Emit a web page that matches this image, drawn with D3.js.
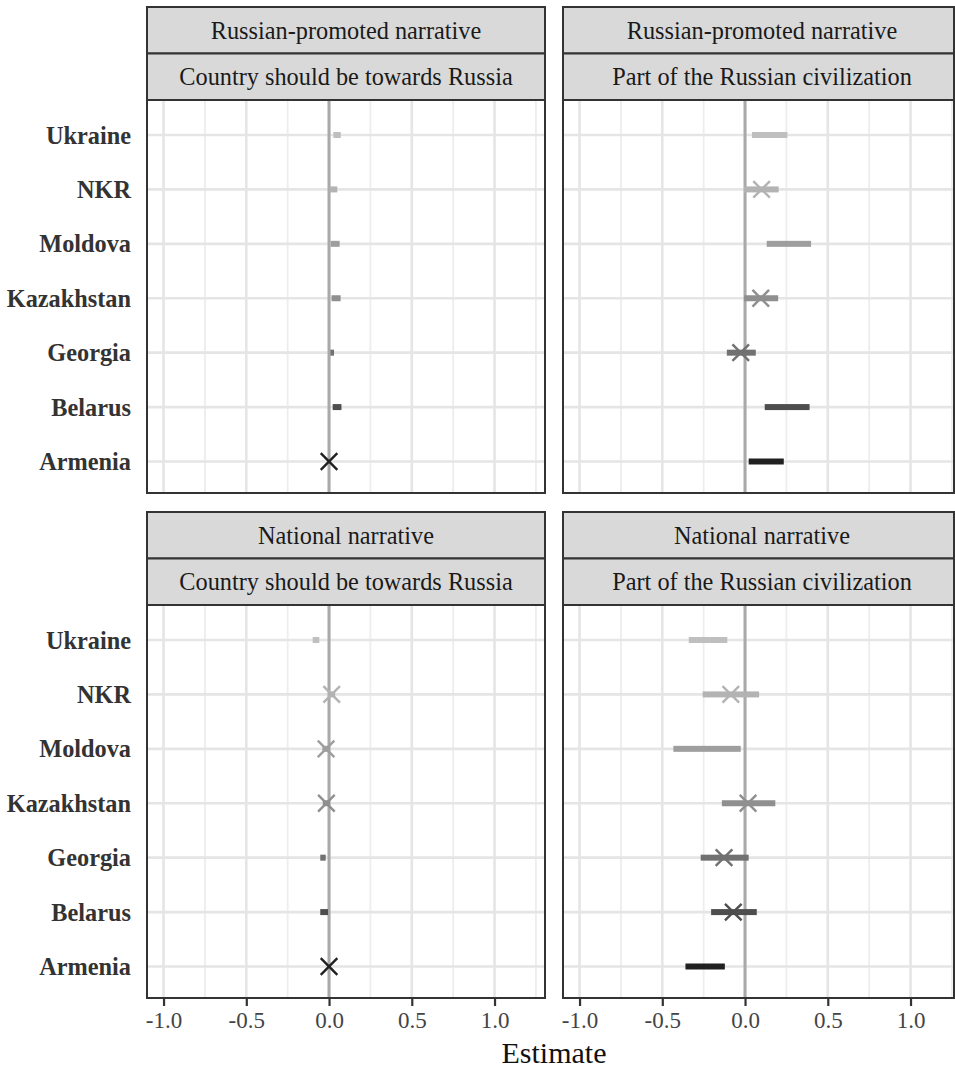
<!DOCTYPE html>
<html>
<head>
<meta charset="utf-8">
<script src="https://cdn.jsdelivr.net/npm/d3@7"></script>
<style>
  html, body { margin: 0; padding: 0; background: #fff; }
  svg { display: block; font-family: "Liberation Serif", "Times New Roman", serif; }
</style>
</head>
<body>
<svg id="chart" width="955" height="1069"></svg>
<script>
// Countries, listed top to bottom
const countries = ["Ukraine", "NKR", "Moldova", "Kazakhstan", "Georgia", "Belarus", "Armenia"];
const countryColors = ["#bfbfbf", "#b3b3b3", "#9e9e9e", "#8f8f8f", "#717171", "#4e4e4e", "#202020"];

// Facet labels
const narratives = ["Russian-promoted narrative", "National narrative"];
const outcomes = ["Country should be towards Russia", "Part of the Russian civilization"];

// Interval bounds (lower / upper) and point estimates drawn as crosses (null = no cross / no bar)
const promotedTowardsLo = [0.026, 0.003, 0.010, 0.015, 0.008, 0.022, null];
const promotedTowardsHi = [0.071, 0.050, 0.064, 0.070, 0.030, 0.075, null];
const promotedTowardsEst = [null, null, null, null, null, null, 0.0];

const promotedCivLo = [0.042, -0.006, 0.131, -0.006, -0.110, 0.119, 0.022];
const promotedCivHi = [0.256, 0.203, 0.399, 0.200, 0.065, 0.390, 0.234];
const promotedCivEst = [null, 0.100, null, 0.095, -0.026, null, null];

const nationalTowardsLo = [-0.099, -0.005, -0.040, -0.038, -0.053, -0.053, null];
const nationalTowardsHi = [-0.059, 0.037, 0.004, 0.006, -0.020, -0.006, null];
const nationalTowardsEst = [null, 0.016, -0.018, -0.016, null, null, 0.0];

const nationalCivLo = [-0.340, -0.256, -0.433, -0.140, -0.268, -0.205, -0.360];
const nationalCivHi = [-0.107, 0.085, -0.026, 0.183, 0.022, 0.071, -0.122];
const nationalCivEst = [null, -0.086, null, 0.018, -0.127, -0.071, null];

// X axis
const xTicks = [-1.0, -0.5, 0.0, 0.5, 1.0];
const xMinor = [-0.75, -0.25, 0.25, 0.75, 1.25];
const xDomain = [-1.1, 1.305];
const xTitle = "Estimate";

const panels = [
  { row: 0, col: 0, narrative: narratives[0], outcome: outcomes[0], lo: promotedTowardsLo, hi: promotedTowardsHi, est: promotedTowardsEst },
  { row: 0, col: 1, narrative: narratives[0], outcome: outcomes[1], lo: promotedCivLo, hi: promotedCivHi, est: promotedCivEst },
  { row: 1, col: 0, narrative: narratives[1], outcome: outcomes[0], lo: nationalTowardsLo, hi: nationalTowardsHi, est: nationalTowardsEst },
  { row: 1, col: 1, narrative: narratives[1], outcome: outcomes[1], lo: nationalCivLo, hi: nationalCivHi, est: nationalCivEst }
];

const W = 955, H = 1069;
const colX = [147, 563];
const panelW = 398;
const rowTop = [7, 512];      // top of first strip
const stripH = 46.5;
const panelH = 393;

const svg = d3.select("#chart");
const color = d3.scaleOrdinal().domain(countries).range(countryColors);

panels.forEach(p => {
  const x0 = colX[p.col];
  const sTop = rowTop[p.row];
  const pTop = sTop + 2 * stripH;
  const pBot = pTop + panelH;
  const visW = Math.min(panelW, W - 1 - x0);

  const x = d3.scaleLinear().domain(xDomain).range([x0, x0 + panelW]);
  const y = d3.scalePoint().domain(countries).range([pTop + 35, pBot - 31.5]);

  const g = svg.append("g");
  const clipId = `clip-${p.row}-${p.col}`;
  g.append("clipPath").attr("id", clipId)
    .append("rect").attr("x", x0).attr("y", pTop).attr("width", visW).attr("height", panelH);

  const inner = g.append("g").attr("clip-path", `url(#${clipId})`);

  // panel background
  inner.append("rect").attr("x", x0).attr("y", pTop).attr("width", visW).attr("height", panelH).attr("fill", "#fff");

  // minor vertical grid
  inner.selectAll("line.minor").data(xMinor).join("line")
    .attr("x1", d => x(d)).attr("x2", d => x(d))
    .attr("y1", pTop).attr("y2", pBot)
    .attr("stroke", "#ededed").attr("stroke-width", 1.8);

  // major vertical grid
  inner.selectAll("line.major").data(xTicks).join("line")
    .attr("x1", d => x(d)).attr("x2", d => x(d))
    .attr("y1", pTop).attr("y2", pBot)
    .attr("stroke", "#e5e5e5").attr("stroke-width", 2.6);

  // horizontal grid per country
  inner.selectAll("line.hgrid").data(countries).join("line")
    .attr("x1", x0).attr("x2", x0 + visW)
    .attr("y1", d => y(d)).attr("y2", d => y(d))
    .attr("stroke", "#e5e5e5").attr("stroke-width", 2.6);

  // zero reference line
  inner.append("line")
    .attr("x1", x(0)).attr("x2", x(0)).attr("y1", pTop).attr("y2", pBot)
    .attr("stroke", "#a9a9a9").attr("stroke-width", 3);

  // intervals
  const rows = countries.map((c, i) => ({ c, lo: p.lo[i], hi: p.hi[i], est: p.est[i] }));
  inner.selectAll("rect.bar").data(rows.filter(r => r.lo !== null && r.hi !== null)).join("rect")
    .attr("x", r => x(r.lo)).attr("width", r => x(r.hi) - x(r.lo))
    .attr("y", r => y(r.c) - 3).attr("height", 6)
    .attr("fill", r => color(r.c));

  // point estimates as crosses
  const s = 8.3;
  const crosses = inner.selectAll("g.cross").data(rows.filter(r => r.est !== null)).join("g")
    .attr("transform", r => `translate(${x(r.est)},${y(r.c)})`);
  crosses.append("line").attr("x1", -s).attr("y1", -s).attr("x2", s).attr("y2", s)
    .attr("stroke", r => color(r.c)).attr("stroke-width", 2.4);
  crosses.append("line").attr("x1", -s).attr("y1", s).attr("x2", s).attr("y2", -s)
    .attr("stroke", r => color(r.c)).attr("stroke-width", 2.4);

  // panel border
  g.append("rect").attr("x", x0).attr("y", pTop).attr("width", visW).attr("height", panelH)
    .attr("fill", "none").attr("stroke", "#333").attr("stroke-width", 2);

  // strips
  [p.narrative, p.outcome].forEach((label, k) => {
    const st = sTop + k * stripH;
    g.append("rect").attr("x", x0).attr("y", st).attr("width", visW).attr("height", stripH)
      .attr("fill", "#d9d9d9").attr("stroke", "#333").attr("stroke-width", 2);
    g.append("text").attr("x", x0 + panelW / 2).attr("y", st + stripH / 2).attr("dy", "0.35em")
      .attr("text-anchor", "middle").attr("font-size", 24.3).attr("fill", "#1a1a1a")
      .text(label);
  });

  // y labels on left column
  if (p.col === 0) {
    g.selectAll("text.ylab").data(countries).join("text")
      .attr("x", x0 - 16).attr("y", d => y(d)).attr("dy", "0.35em")
      .attr("text-anchor", "end").attr("font-size", 24.3).attr("font-weight", "bold")
      .attr("fill", "#333").text(d => d);
  }

  // x axis on bottom row
  if (p.row === 1) {
    const axis = d3.axisBottom(x).tickValues(xTicks).tickSize(8).tickPadding(6)
      .tickFormat(d3.format(".1f"));
    const ax = g.append("g").attr("transform", `translate(0,${pBot})`).call(axis);
    ax.select(".domain").remove();
    ax.selectAll(".tick line").attr("stroke", "#333").attr("stroke-width", 2.2);
    ax.selectAll(".tick text").attr("font-size", 23).attr("fill", "#444")
      .attr("font-family", "Liberation Serif, Times New Roman, serif")
      .text(d => d3.format(".1f")(d).replace("−", "-"));
  }
});

// x-axis title
svg.append("text").attr("x", 554).attr("y", 1063).attr("text-anchor", "middle")
  .attr("font-size", 30).attr("fill", "#111").text(xTitle);
</script>
</body>
</html>
